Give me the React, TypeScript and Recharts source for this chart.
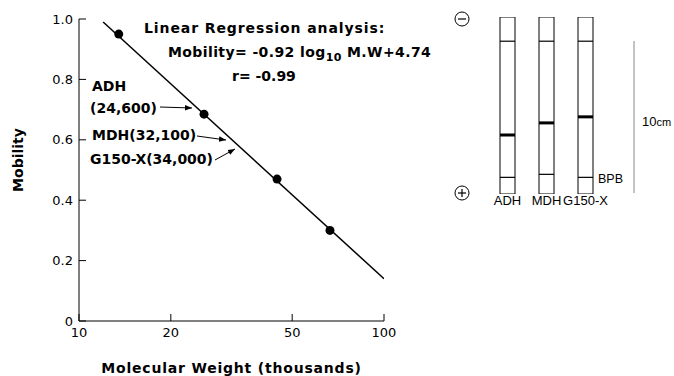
import { ComposedChart, Line, Scatter, Bar, XAxis, YAxis } from "recharts";

const FONT = "'DejaVu Sans', sans-serif";
const GEL_FONT = "'Liberation Sans', Arial, sans-serif";

// calibration proteins: molecular weight (thousands) vs. relative mobility
const standardMW = [13.5, 25.7, 44.6, 66.5];
const standardMobility = [0.95, 0.685, 0.47, 0.3];

// end points of the fitted regression line
const fitMW = [12.0, 100];
const fitMobility = [0.99, 0.14];

const mwTicks = [10, 20, 50, 100];
const mobilityTicks = [0, 0.2, 0.4, 0.6, 0.8, 1.0];

// gel tubes, distances in cm from the top of the gel
const lanes = ["ADH", "MDH", "G150-X"];
const tubeTop = [-1.6, -1.6, -1.6];
const tubeBottom = [10.1, 10.1, 10.1];
const gelOrigin = [0, 0, 0];
const bandPos = [6.2, 5.4, 5.0];
const dyeFront = [9.0, 8.8, 9.0];

const standards = standardMW.map((mw, i) => ({ mw, mobility: standardMobility[i] }));
const fitLine = fitMW.map((mw, i) => ({ mw, mobility: fitMobility[i] }));
const gelRows = lanes.map((lane, i) => ({
  lane,
  tube: [tubeTop[i], tubeBottom[i]],
  origin: gelOrigin[i],
  band: bandPos[i],
  bpb: dyeFront[i],
}));

const dot = (p: any) => <circle cx={p.cx} cy={p.cy} r={4.5} fill="#000" />;

const gelMark = (h: number) => (p: any) =>
  <rect x={p.cx - 7.5} y={p.cy - h / 2} width={15} height={h} fill="#000" />;

const tickStyle = { fill: "#000", fontSize: 13, fontFamily: FONT };
const noteStyle = { fontFamily: FONT, fontSize: 14, fontWeight: 700 as const, fill: "#000" };

function MainChart() {
  return (
    <ComposedChart
      width={440}
      height={376}
      margin={{ top: 19, right: 56, left: 0, bottom: 0 }}
    >
      <defs>
        <marker id="arr" viewBox="0 0 10 10" refX="10" refY="5" markerWidth="7" markerHeight="7" orient="auto-start-reverse">
          <path d="M0,1 L10,5 L0,9 z" fill="#000" />
        </marker>
      </defs>
      <XAxis
        dataKey="mw"
        type="number"
        scale="log"
        domain={[10, 100]}
        ticks={mwTicks}
        allowDataOverflow
        height={55}
        tickSize={-7}
        tickMargin={14}
        stroke="#000"
        tick={tickStyle}
        label={{
          value: "Molecular Weight (thousands)",
          position: "insideBottom",
          offset: 3,
          style: { ...noteStyle, letterSpacing: 0.8 },
        }}
      />
      <YAxis
        dataKey="mobility"
        type="number"
        domain={[0, 1]}
        ticks={mobilityTicks}
        width={79}
        tickSize={-7}
        tickMargin={13}
        stroke="#000"
        tick={tickStyle}
        tickFormatter={(v: number) => (v === 0 ? "0" : v.toFixed(1))}
      />
      <Line
        data={fitLine}
        dataKey="mobility"
        stroke="#000"
        strokeWidth={1.5}
        dot={false}
        isAnimationActive={false}
      />
      <Scatter data={standards} dataKey="mobility" shape={dot} isAnimationActive={false} />

      <text x={18} y={160} transform="rotate(-90 18 160)" textAnchor="middle" dominantBaseline="central" style={noteStyle}>
        Mobility
      </text>

      <text x={144} y={33} style={{ ...noteStyle, letterSpacing: 0.9 }}>Linear  Regression  analysis:</text>
      <text x={168} y={57} style={{ ...noteStyle, letterSpacing: 0.4 }}>
        Mobility= -0.92 log
        <tspan dy={4} fontSize={11}>10</tspan>
        <tspan dy={-4}> M.W+4.74</tspan>
      </text>
      <text x={232} y={81} style={noteStyle}>r= -0.99</text>

      <text x={92} y={91} style={noteStyle}>ADH</text>
      <text x={90} y={113} style={noteStyle}>(24,600)</text>
      <text x={92} y={140} style={noteStyle}>MDH(32,100)</text>
      <text x={90} y={164} style={noteStyle}>G150-X(34,000)</text>
      <line x1={160} y1={107} x2={192} y2={108} stroke="#000" strokeWidth={1} markerEnd="url(#arr)" />
      <line x1={197} y1={136} x2={226} y2={140} stroke="#000" strokeWidth={1} markerEnd="url(#arr)" />
      <line x1={215} y1={160} x2={235} y2={149} stroke="#000" strokeWidth={1} markerEnd="url(#arr)" />
    </ComposedChart>
  );
}

function GelChart() {
  return (
    <ComposedChart
      width={234}
      height={376}
      data={gelRows}
      margin={{ top: 17, right: 69, left: 48, bottom: 152 }}
    >
      <XAxis
        dataKey="lane"
        type="category"
        height={30}
        interval={0}
        axisLine={false}
        tickLine={false}
        tickSize={0}
        tickMargin={2}
        tick={{ fill: "#000", fontSize: 13, fontFamily: GEL_FONT }}
      />
      <YAxis hide type="number" domain={[-1.6, 10.1]} reversed allowDataOverflow />
      <Bar dataKey="tube" barSize={15} fill="#fff" stroke="#000" strokeWidth={1} isAnimationActive={false} />
      <Scatter dataKey="origin" shape={gelMark(1.2)} isAnimationActive={false} />
      <Scatter dataKey="band" shape={gelMark(3)} isAnimationActive={false} />
      <Scatter dataKey="bpb" shape={gelMark(1.2)} isAnimationActive={false} />

      {/* electrodes */}
      <circle cx={22} cy={19} r={7} fill="none" stroke="#000" strokeWidth={1} />
      <line x1={18} y1={19} x2={26} y2={19} stroke="#000" strokeWidth={1.2} />
      <circle cx={22} cy={193} r={7} fill="none" stroke="#000" strokeWidth={1} />
      <line x1={18} y1={193} x2={26} y2={193} stroke="#000" strokeWidth={1.2} />
      <line x1={22} y1={189} x2={22} y2={197} stroke="#000" strokeWidth={1.2} />

      <text x={158} y={183} style={{ fontFamily: GEL_FONT, fontSize: 12.5, fill: "#000" }}>BPB</text>

      {/* 10 cm scale bar */}
      <line x1={194} y1={41} x2={194} y2={193} stroke="#888" strokeWidth={1} />
      <text x={202} y={126} style={{ fontFamily: GEL_FONT, fontSize: 13, fill: "#000" }}>
        10<tspan fontSize={11}>cm</tspan>
      </text>
    </ComposedChart>
  );
}

export default function App() {
  return (
    <div style={{ position: "absolute", left: 0, top: 0, width: 674, height: 376, background: "#fff" }}>
      <div style={{ position: "absolute", left: 0, top: 0 }}>
        <MainChart />
      </div>
      <div style={{ position: "absolute", left: 440, top: 0 }}>
        <GelChart />
      </div>
    </div>
  );
}
